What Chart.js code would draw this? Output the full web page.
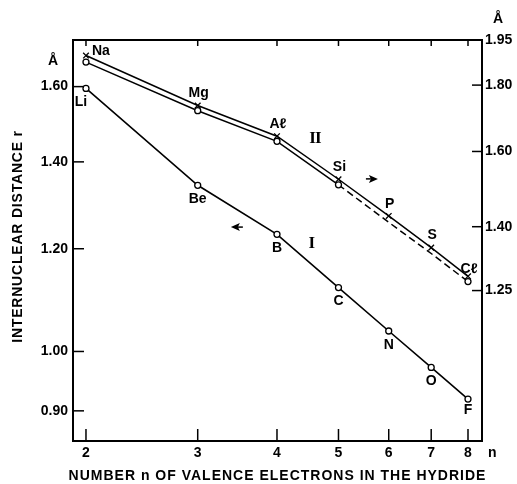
<!DOCTYPE html>
<html>
<head>
<meta charset="utf-8">
<script src="https://cdn.jsdelivr.net/npm/chart.js@4/dist/chart.umd.min.js"></script>
<style>
body{margin:0;background:#fff}
canvas{display:block}
</style>
</head>
<body>
<canvas id="chart" width="517" height="484"></canvas>
<script>
// ================= DATA =================
// n = number of valence electrons in the hydride
const nValues=[2,3,4,5,6,7,8]

// curve I (first row hydrides), read on the left axis
const labelsI=["Li","Be","B","C","N","O","F"]
const distI=[1.595,1.343,1.231,1.120,1.037,0.972,0.919]

// curve II (second row hydrides), read on the right axis
const labelsII=["Na","Mg","Aℓ","Si","P","S","Cℓ"]
const distIIx=[1.897,1.736,1.644,1.523,1.427,1.349,1.282]   // x marks
const distIIo=[1.875,1.720,1.629,1.508,1.411,1.335,1.270]   // circles

const xTicks=[2,3,4,5,6,7,8]
const leftTicks=[0.90,1.00,1.20,1.40,1.60]
const rightTicks=[1.25,1.40,1.60,1.80,1.95]

// ================= STYLE =================
const FONT='"Liberation Sans", Arial, sans-serif'
const SERIF='"Liberation Serif", "Times New Roman", serif'
Chart.defaults.font.family=FONT
Chart.defaults.color="#000"

const pts=arr=>nValues.map((n,i)=>({x:n,y:arr[i]}))

// ================= PLUGINS =================

// inward tick marks on all four sides
const innerTicks={
id:"innerTicks",
afterDraw(chart){
const {ctx,chartArea:a,scales}=chart
ctx.save()
ctx.strokeStyle="#000"
ctx.lineWidth=1.5
const line=(x1,y1,x2,y2)=>{ctx.beginPath();ctx.moveTo(x1,y1);ctx.lineTo(x2,y2);ctx.stroke()}
xTicks.forEach(n=>{
const x=scales.x.getPixelForValue(n)
line(x,a.bottom,x,a.bottom-12)
line(x,a.top,x,a.top+6)
})
leftTicks.forEach(v=>{
const y=scales.yL.getPixelForValue(v)
line(a.left,y,a.left+11,y)
})
rightTicks.forEach(v=>{
const y=scales.yR.getPixelForValue(v)
line(a.right,y,a.right-10,y)
})
ctx.restore()
}
}

// element names, curve numbers, arrows, axis titles
const annotations={
id:"annotations",
afterDraw(chart){
const {ctx,chartArea:a,scales:{x,yL,yR}}=chart
ctx.save()
ctx.fillStyle="#000"
ctx.strokeStyle="#000"
ctx.font="bold 14px "+FONT
ctx.textAlign="center"
ctx.textBaseline="middle"

// curve I labels below the points
chart.getDatasetMeta(0).data.forEach((p,i)=>{
let dx=i===0?-5:0, dy=i===6?11:14
ctx.fillText(labelsI[i],p.x+dx,p.y+dy)
})

// curve II labels above the x marks
chart.getDatasetMeta(1).data.forEach((p,i)=>{
if(i===0){
ctx.textAlign="left"
ctx.fillText(labelsII[i],p.x+6,p.y-4)
ctx.textAlign="center"
return
}
let dy=i===6?-7:-12
ctx.fillText(labelsII[i],p.x+1,p.y+dy)
})

// curve numbers
ctx.font="bold 17px "+SERIF
ctx.fillText("I",x.getPixelForValue(4.54),yL.getPixelForValue(1.210))
ctx.letterSpacing="-1px"
ctx.fillText("II",x.getPixelForValue(4.59),yR.getPixelForValue(1.636))
ctx.letterSpacing="0px"

// arrows telling which axis each curve uses
const arrow=(cx,cy,dir)=>{
ctx.beginPath()
ctx.moveTo(cx+dir*6,cy)
ctx.lineTo(cx-dir*3,cy-4)
ctx.lineTo(cx-dir*1,cy)
ctx.lineTo(cx-dir*3,cy+4)
ctx.closePath()
ctx.fill()
ctx.lineWidth=1.5
ctx.beginPath()
ctx.moveTo(cx-dir*1,cy)
ctx.lineTo(cx-dir*6,cy)
ctx.stroke()
}
arrow(x.getPixelForValue(3.458),yL.getPixelForValue(1.247),-1)
arrow(x.getPixelForValue(5.645),yR.getPixelForValue(1.524),1)

// units
ctx.font="bold 14px "+FONT
ctx.fillText("Å",a.left-20,yL.getPixelForValue(1.60)-25)
ctx.fillText("Å",a.right+16,yR.getPixelForValue(1.95)-21)
ctx.textAlign="left"
ctx.fillText("n",a.right+6,a.bottom+12)

// axis titles
ctx.textAlign="center"
ctx.letterSpacing="1px"
ctx.fillText("NUMBER n OF VALENCE ELECTRONS IN THE HYDRIDE",(a.left+a.right)/2,476)
ctx.save()
ctx.translate(18,(a.top+a.bottom)/2-4)
ctx.rotate(-Math.PI/2)
ctx.letterSpacing="0.8px"
ctx.fillText("INTERNUCLEAR DISTANCE r",0,0)
ctx.restore()

ctx.restore()
}
}

// ================= CHART =================

const tickFont={family:FONT,size:14,weight:"bold"}
const noGrid={drawOnChartArea:false,drawTicks:false}
const frame={width:2,color:"#000"}

new Chart(document.getElementById("chart"),{
type:"line",
data:{
datasets:[
{
label:"I",
data:pts(distI),
yAxisID:"yL",
borderColor:"#000",
borderWidth:1.6,
pointStyle:"circle",
pointRadius:3,
pointBackgroundColor:"#fff",
pointBorderColor:"#000",
pointBorderWidth:1.3,
tension:0
},
{
label:"II x",
data:pts(distIIx),
yAxisID:"yR",
borderColor:"#000",
borderWidth:1.5,
pointStyle:"crossRot",
pointRadius:4,
pointBorderColor:"#000",
pointBorderWidth:1.3,
tension:0
},
{
label:"II o",
data:pts(distIIo),
yAxisID:"yR",
borderColor:"#000",
borderWidth:1.5,
segment:{borderDash:c=>c.p0DataIndex>=3?[7,4]:undefined},
pointStyle:"circle",
pointRadius:[3,3,3,3,0,0,3],
pointBackgroundColor:"#fff",
pointBorderColor:"#000",
pointBorderWidth:1.3,
tension:0
}
]
},
options:{
responsive:false,
devicePixelRatio:1,
animation:false,
layout:{padding:0},
plugins:{legend:{display:false},tooltip:{enabled:false}},
scales:{
x:{
type:"logarithmic",
position:"bottom",
min:1.908,
max:8.417,
afterBuildTicks:s=>{s.ticks=xTicks.map(v=>({value:v}))},
ticks:{callback:v=>String(v),font:tickFont,padding:4,maxRotation:0,autoSkip:false},
grid:noGrid,
border:frame,
afterFit:s=>{s.height=43}
},
xTop:{
type:"logarithmic",
position:"top",
min:1.908,
max:8.417,
ticks:{display:false},
grid:noGrid,
border:frame,
afterFit:s=>{s.height=40}
},
yL:{
type:"logarithmic",
position:"left",
min:0.8531,
max:1.738,
afterBuildTicks:s=>{s.ticks=leftTicks.map(v=>({value:v}))},
ticks:{callback:v=>v.toFixed(2),font:tickFont,padding:5,autoSkip:false},
grid:noGrid,
border:frame,
afterFit:s=>{s.width=73}
},
yR:{
type:"logarithmic",
position:"right",
min:0.9571,
max:1.95,
afterBuildTicks:s=>{s.ticks=rightTicks.map(v=>({value:v}))},
ticks:{callback:v=>v.toFixed(2),font:tickFont,padding:3,autoSkip:false},
grid:noGrid,
border:frame,
afterFit:s=>{s.width=35}
}
}
},
plugins:[innerTicks,annotations]
})
</script>
</body>
</html>
